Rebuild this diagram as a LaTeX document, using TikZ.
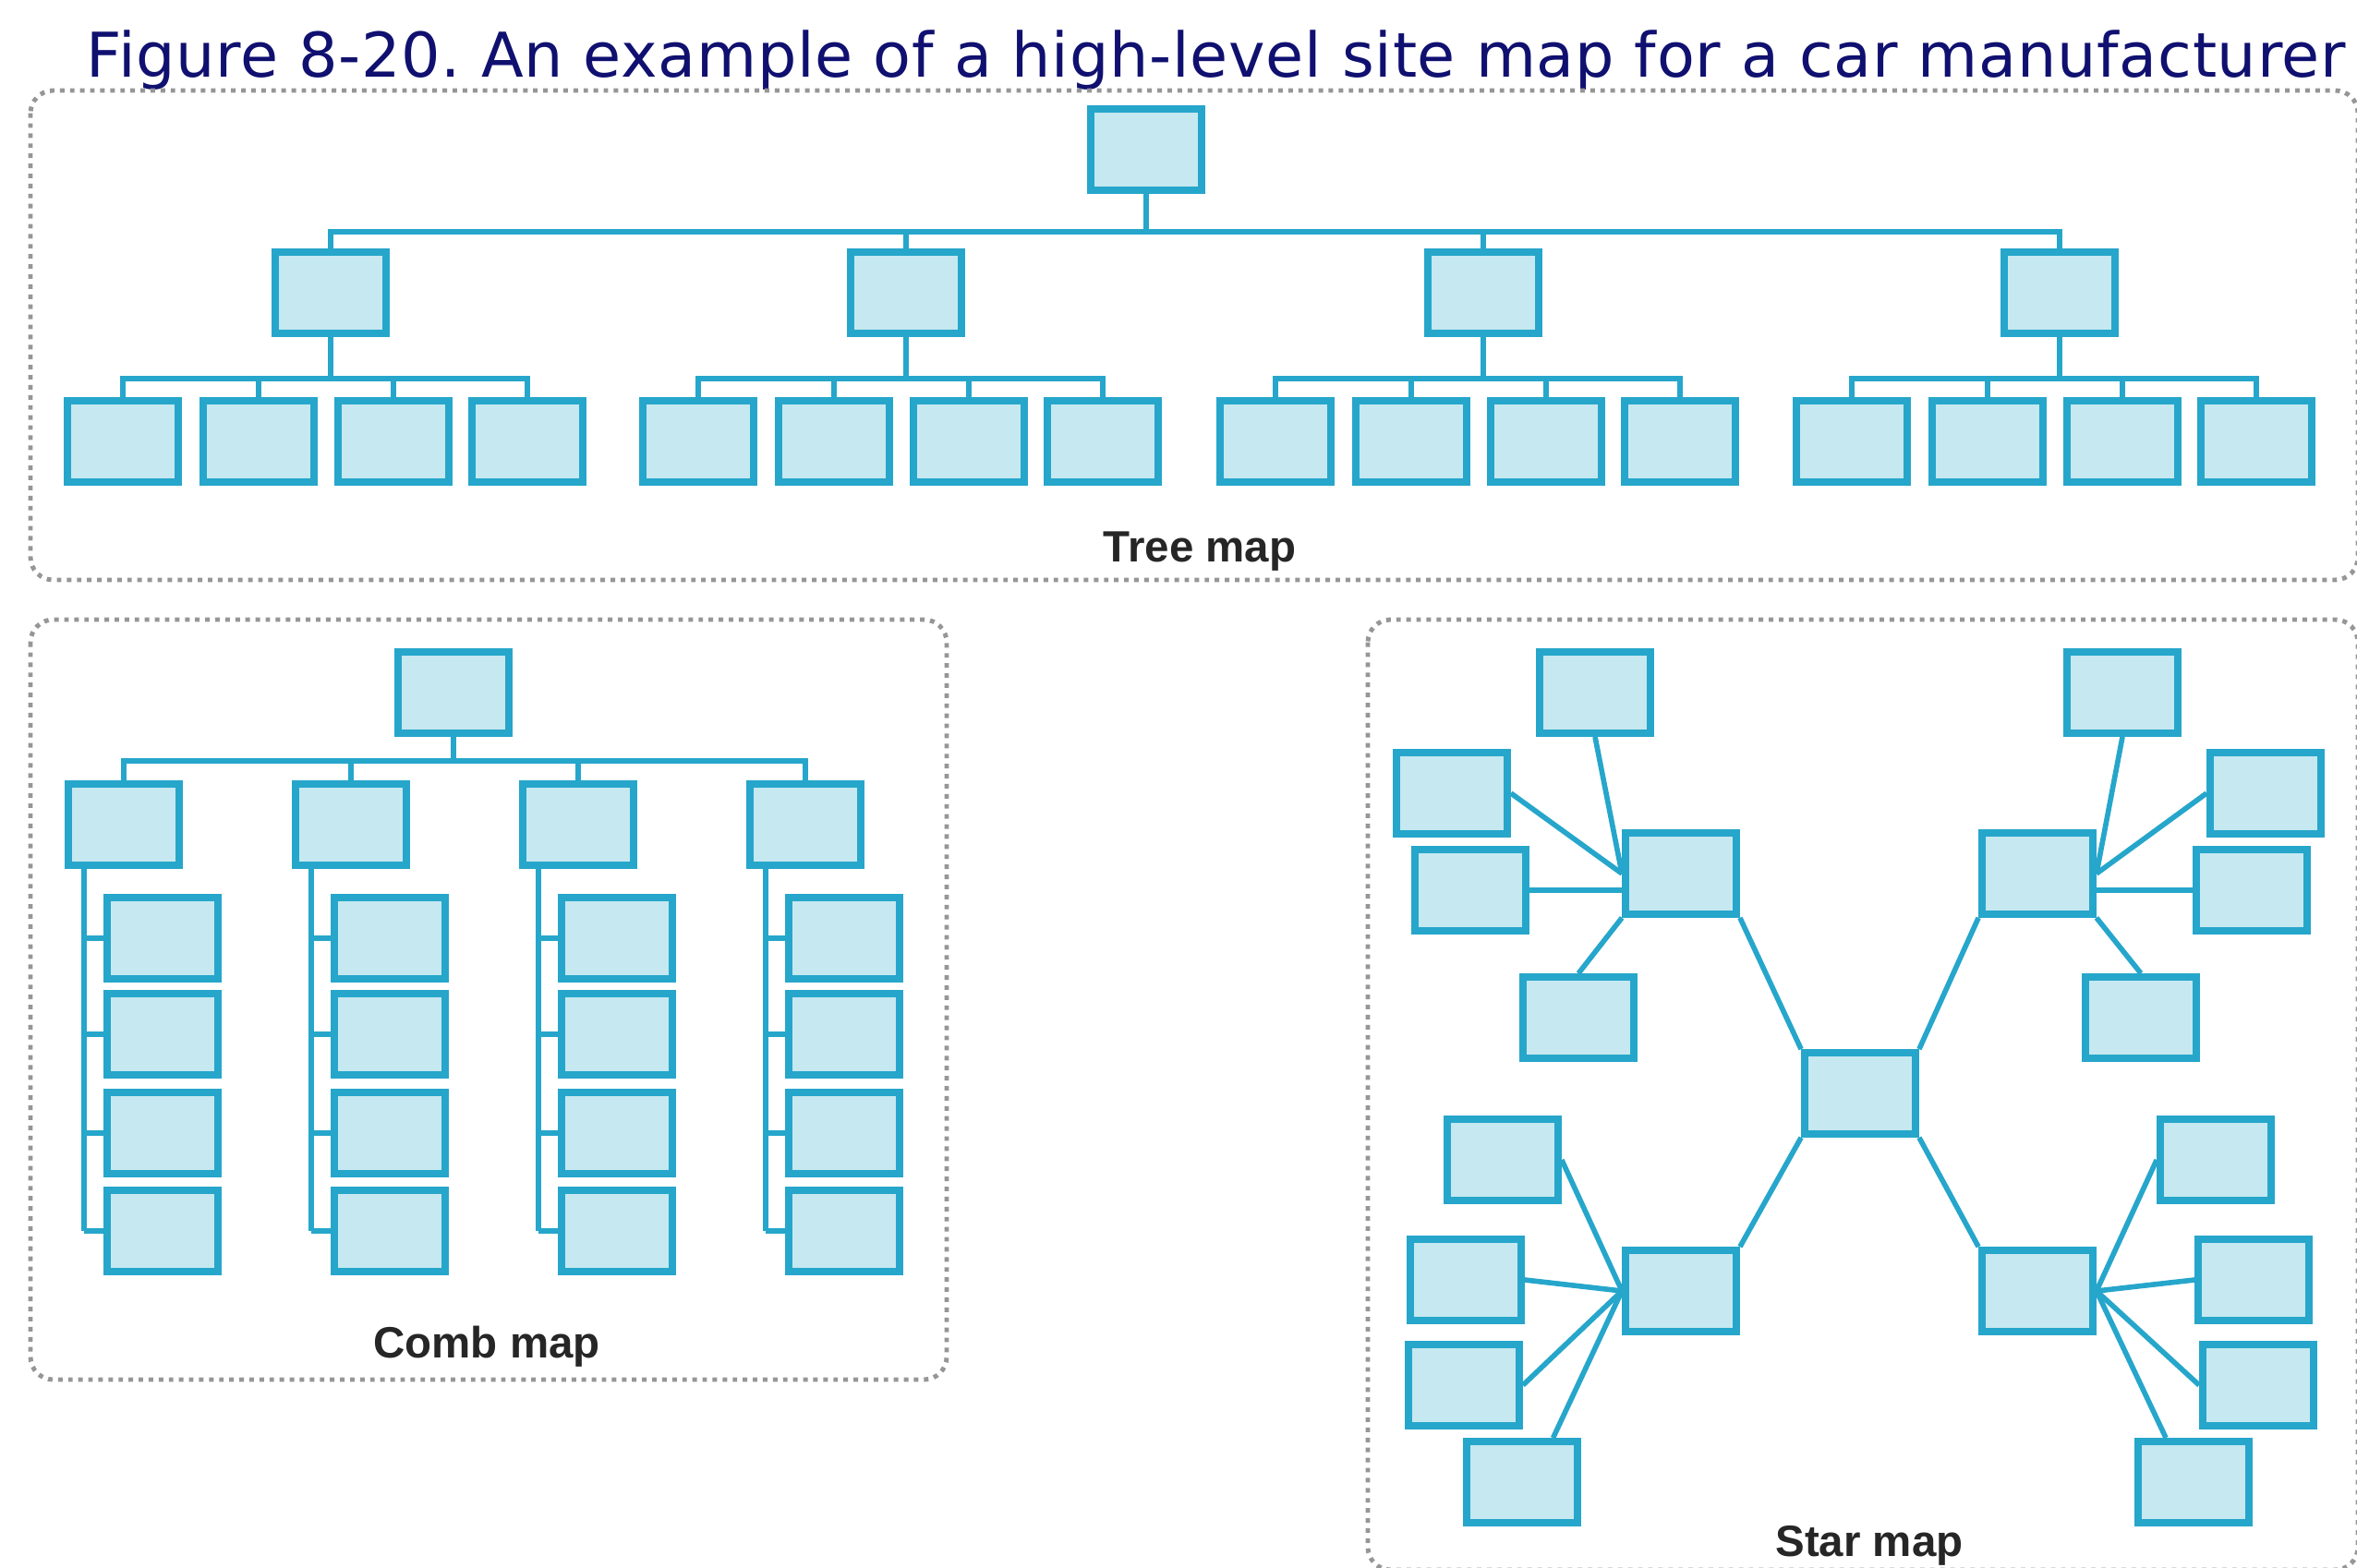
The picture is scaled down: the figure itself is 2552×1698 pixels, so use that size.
\documentclass[tikz,border=0pt]{standalone}
\usepackage{fontspec}
\setmainfont{DejaVu Sans}
\newfontfamily\labelfont{Liberation Sans}
\definecolor{mapblue}{RGB}{38, 166, 203}
\definecolor{mapfill}{RGB}{198, 232, 240}
\definecolor{titlenavy}{RGB}{16, 16, 112}
\definecolor{framegray}{RGB}{150, 150, 150}
\frenchspacing

\begin{document}
\begin{tikzpicture}[
  x=0.01cm, y=-0.01cm,
  pgbox/.style={draw=mapblue, fill=mapfill, line width=2.2pt, minimum width=1.2cm, minimum height=0.88cm, inner sep=0pt},
  link/.style={draw=mapblue, line width=1.9pt},
  spoke/.style={draw=mapblue, line width=1.6pt},
  frame/.style={draw=framegray, line width=1.4pt, dash pattern=on 1.4pt off 1.7pt, rounded corners=7pt},
  maplabel/.style={font=\labelfont\bfseries\fontsize{13.5}{16}\selectfont, text=black!85}
]
  \useasboundingbox (0,0) rectangle (2552,1698);

  \node[anchor=base west, text=titlenavy, inner sep=0pt,
        font=\fontsize{19}{23}\selectfont\addfontfeature{LetterSpace=1.1}] (title) at (93,84)
    {Figure 8-20. An example of a high-level site map for a car manufacturer};

  \draw[frame] (33,98) rectangle (2553,628);
  \draw[frame] (33,671) rectangle (1025,1494);
  \draw[frame] (1481,671) rectangle (2553,1700);

  % tree map
  \coordinate (treebus) at (0,251);
  \coordinate (treesub) at (0,410);
  \node[pgbox] (home) at (1241,162) {};
  \foreach \i/\x in {1/358, 2/981, 3/1606, 4/2230} {
    \node[pgbox] (sec\i) at (\x,317) {};
    \foreach \j/\dx in {1/-225, 2/-78, 3/68, 4/213}
      \node[pgbox] (pg\i\j) at ({\x+\dx},478) {};
    \draw[link] (sec\i.south) -- (sec\i |- treesub);
    \draw[link] (pg\i1.north) -- (pg\i1 |- treesub) -- (pg\i4 |- treesub) -- (pg\i4.north);
    \draw[link] (pg\i2.north) -- (pg\i2 |- treesub);
    \draw[link] (pg\i3.north) -- (pg\i3 |- treesub);
  }
  \draw[link] (home.south) -- (home |- treebus);
  \draw[link] (sec1.north) -- (sec1 |- treebus) -- (sec4 |- treebus) -- (sec4.north);
  \draw[link] (sec2.north) -- (sec2 |- treebus);
  \draw[link] (sec3.north) -- (sec3 |- treebus);
  \node[maplabel] (treelabel) at (1299,597) {Tree map};

  % comb map
  \coordinate (combbus) at (0,824);
  \node[pgbox] (combhome) at (491,750) {};
  \foreach \i/\x in {1/134, 2/380, 3/626, 4/872} {
    \node[pgbox] (cs\i) at (\x,893) {};
    \coordinate (spine\i) at ([xshift=-0.43cm]cs\i.south);
    \foreach \j/\y in {1/1016, 2/1120, 3/1227, 4/1333} {
      \node[pgbox] (cp\i\j) at ({\x+42},\y) {};
      \draw[link] (spine\i |- cp\i\j) -- (cp\i\j.west);
    }
    \draw[link] (spine\i) -- (spine\i |- cp\i4);
  }
  \draw[link] (combhome.south) -- (combhome |- combbus);
  \draw[link] (cs1.north) -- (cs1 |- combbus) -- (cs4 |- combbus) -- (cs4.north);
  \draw[link] (cs2.north) -- (cs2 |- combbus);
  \draw[link] (cs3.north) -- (cs3 |- combbus);
  \node[maplabel] (comblabel) at (527,1458) {Comb map};

  % star map
  \node[pgbox] (star) at (2014,1184) {};
  \node[pgbox] (hubNW) at (1820,946) {};
  \node[pgbox] (hubNE) at (2206,946) {};
  \node[pgbox] (hubSW) at (1820,1398) {};
  \node[pgbox] (hubSE) at (2206,1398) {};
  \draw[spoke] (star.north west) -- (hubNW.south east);
  \draw[spoke] (star.north east) -- (hubNE.south west);
  \draw[spoke] (star.south west) -- (hubSW.north east);
  \draw[spoke] (star.south east) -- (hubSE.north west);

  \node[pgbox] (nw1) at (1727,750) {};
  \node[pgbox] (nw2) at (1572,859) {};
  \node[pgbox] (nw3) at (1592,964) {};
  \node[pgbox] (nw4) at (1709,1102) {};
  \draw[spoke] (nw1.south) -- (hubNW.west);
  \draw[spoke] (nw2.east) -- (hubNW.west);
  \draw[spoke] (nw3.east) -- (nw3.east -| hubNW.west);
  \draw[spoke] (nw4.north) -- (hubNW.south west);

  \node[pgbox] (ne1) at (2298,750) {};
  \node[pgbox] (ne2) at (2453,859) {};
  \node[pgbox] (ne3) at (2438,964) {};
  \node[pgbox] (ne4) at (2318,1102) {};
  \draw[spoke] (ne1.south) -- (hubNE.east);
  \draw[spoke] (ne2.west) -- (hubNE.east);
  \draw[spoke] (ne3.west) -- (ne3.west -| hubNE.east);
  \draw[spoke] (ne4.north) -- (hubNE.south east);

  \node[pgbox] (sw1) at (1627,1256) {};
  \node[pgbox] (sw2) at (1587,1386) {};
  \node[pgbox] (sw3) at (1585,1500) {};
  \node[pgbox] (sw4) at (1648,1605) {};
  \foreach \n in {sw1, sw2, sw3}
    \draw[spoke] (\n.east) -- (hubSW.west);
  \draw[spoke] (sw4.55) -- (hubSW.west);

  \node[pgbox] (se1) at (2399,1256) {};
  \node[pgbox] (se2) at (2440,1386) {};
  \node[pgbox] (se3) at (2445,1500) {};
  \node[pgbox] (se4) at (2375,1605) {};
  \foreach \n in {se1, se2, se3}
    \draw[spoke] (\n.west) -- (hubSE.east);
  \draw[spoke] (se4.122) -- (hubSE.east);
  \node[maplabel] (starlabel) at (2024,1674) {Star map};
\end{tikzpicture}
\end{document}
